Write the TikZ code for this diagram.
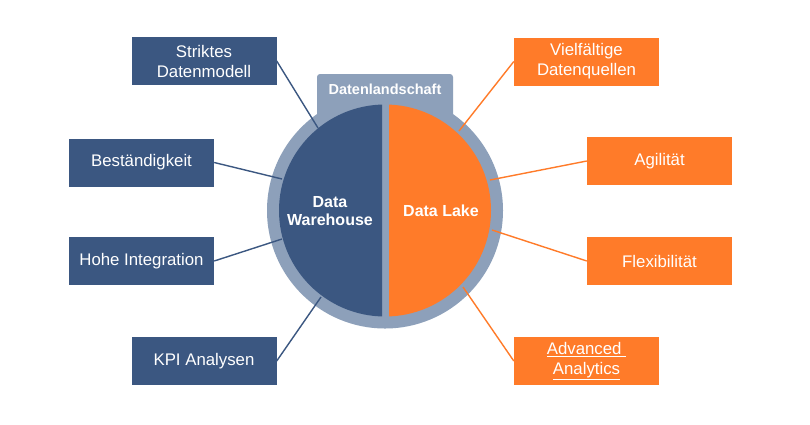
\documentclass[tikz,border=0pt]{standalone}
\usepackage{fontspec}
\setmainfont{Liberation Sans}
\definecolor{dwblue}{HTML}{3B5781}
\definecolor{dlorange}{HTML}{FF7B29}
\definecolor{ringgray}{HTML}{8DA0BA}
\begin{document}
\begin{tikzpicture}[x=1pt,y=-1pt,
  bluebox/.style={fill=dwblue,text=white,minimum width=145pt,minimum height=48pt,inner sep=0pt,align=center,font=\fontsize{16.8}{20}\selectfont},
  orangebox/.style={bluebox,fill=dlorange},
  blueline/.style={draw=dwblue,line width=1.4pt},
  orangeline/.style={draw=dlorange,line width=1.4pt},
  centertext/.style={text=white,align=center,font=\bfseries\fontsize{16}{18}\selectfont}]
\useasboundingbox (0,0) rectangle (810,424);
\fill[white] (0,0) rectangle (810,424);
% tab and ring
\fill[ringgray,rounded corners=3pt] (317,74) rectangle (453,150);
\coordinate (C) at (385,210.5);
\fill[ringgray] (C) circle[radius=118pt];
\node[text=white,font=\bfseries\fontsize{14.5}{16}\selectfont] (tab) at (385,89) {Datenlandschaft};
% connector ends on the inner circle
\coordinate (s1) at (318,128);
\coordinate (s2) at (282,179);
\coordinate (s3) at (282,239);
\coordinate (s4) at (321,297);
\coordinate (o1) at (459,131);
\coordinate (o2) at (490,180);
\coordinate (o3) at (492,230);
\coordinate (o4) at (463,287);
% halves
\begin{scope}
\clip (260,80) rectangle (382,340);
\fill[dwblue] (C) circle[radius=106pt];
\end{scope}
\begin{scope}
\clip (389,80) rectangle (510,340);
\fill[dlorange] (C) circle[radius=106pt];
\end{scope}
\node[centertext] (dw) at (330,211) {Data\\Warehouse};
\node[centertext] (dl) at (441,211) {Data Lake};
% boxes
\node[bluebox] (b1) at (204,61) {Striktes\\Datenmodell};
\node[bluebox] (b2) at (141.5,162.5) {Beständigkeit};
\node[bluebox] (b3) at (141.5,261) {Hohe Integration};
\node[bluebox] (b4) at (204,361) {KPI Analysen};
\node[orangebox] (r1) at (586.5,61.5) {Vielfältige\\Datenquellen};
\node[orangebox] (r2) at (659.5,161) {Agilität};
\node[orangebox] (r3) at (659.5,261) {Flexibilität};
\node[orangebox] (r4) at (586.5,361) {\underline{Advanced }\\\underline{Analytics}};
\draw[blueline] (b1.east) -- (s1);
\draw[blueline] (b2.east) -- (s2);
\draw[blueline] (b3.east) -- (s3);
\draw[blueline] (b4.east) -- (s4);
\draw[orangeline] (r1.west) -- (o1);
\draw[orangeline] (r2.west) -- (o2);
\draw[orangeline] (r3.west) -- (o3);
\draw[orangeline] (r4.west) -- (o4);
\end{tikzpicture}
\end{document}
